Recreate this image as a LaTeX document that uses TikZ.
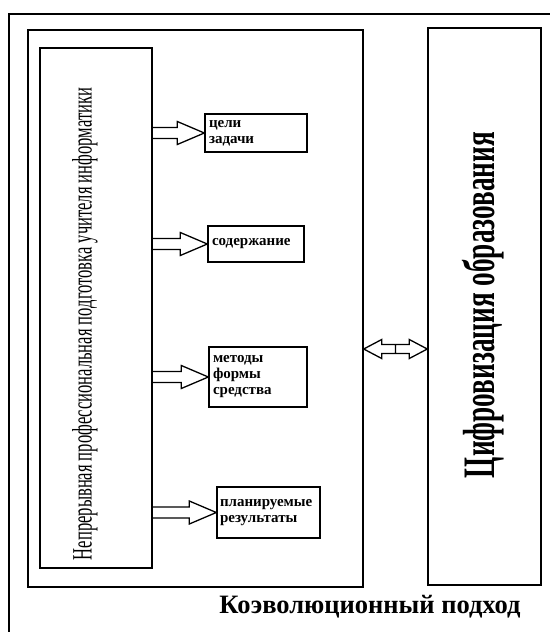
\documentclass[tikz,border=0pt]{standalone}
\usepackage{fontspec}
\setmainfont{Liberation Serif}
\usetikzlibrary{positioning,calc}

% block arrow, from #1 to the tip #2
\newcommand\blockarr[2]{%
  \draw[arrline] let \p1=(#1), \p2=(#2) in
    (\x1,\y1+5.5pt) -- (\x2-27pt,\y1+5.5pt) -- (\x2-27pt,\y1+11.5pt) -- (\x2,\y1)
    -- (\x2-27pt,\y1-11.5pt) -- (\x2-27pt,\y1-5.5pt) -- (\x1,\y1-5.5pt);}
% two block arrows, tip to tip
\newcommand\dblarr[2]{%
  \draw[arrline] let \p1=(#1), \p2=(#2), \p3=($(#1)!0.5!(#2)$) in
    (\x1,\y1) -- (\x1+18pt,\y1+9.5pt) -- (\x1+18pt,\y1+4.5pt) -- (\x2-18pt,\y1+4.5pt)
    -- (\x2-18pt,\y1+9.5pt) -- (\x2,\y1) -- (\x2-18pt,\y1-9.5pt) -- (\x2-18pt,\y1-4.5pt)
    -- (\x1+18pt,\y1-4.5pt) -- (\x1+18pt,\y1-9.5pt) -- cycle
    (\x3,\y1+4.5pt) -- (\x3,\y1-4.5pt);}

\begin{document}
\begin{tikzpicture}[x=1pt,y=-1pt,
    frame/.style={draw, line width=1.4pt, inner sep=0pt},
    itembox/.style={draw, line width=1.4pt, align=left, inner xsep=4pt, inner ysep=0pt},
    arrline/.style={line width=1.3pt, line join=miter}]
    \useasboundingbox (0,0) rectangle (550,632);
    % outer frame, cut off by the page
    \draw[line width=1.4pt] (9,632) -- (9,14) -- (550,14);

    \node[frame, minimum width=335pt, minimum height=557pt] (cycle) at (195.5,308.5) {};
    \node[frame, minimum width=112pt, minimum height=520pt] (prep) at (96,308) {};
    \node[frame, minimum width=113pt, minimum height=557pt] (digit) at (484.5,306.5) {};

    \node[rotate=90, font=\fontsize{28}{28}\selectfont] (preptext) at (85,324)
        {\resizebox{472pt}{\height}{Непрерывная профессиональная подготовка учителя информатики}};
    \node[rotate=90, font=\bfseries\fontsize{45}{45}\selectfont] (digittext) at (483,305)
        {\resizebox{346pt}{\height}{Цифровизация образования}};

    \node[itembox, text width=94pt, minimum height=38pt,
        font=\bfseries\fontsize{15}{16}\selectfont] (aims) at (256,133) {цели\\задачи};
    \node[itembox, text width=88pt, minimum height=36pt,
        font=\bfseries\fontsize{15}{16}\selectfont] (content) at (256,244) {содержание};
    \node[itembox, text width=90pt, minimum height=60pt,
        font=\bfseries\fontsize{15}{16}\selectfont] (methods) at (258,377) {методы\\формы\\средства};
    \node[itembox, text width=97pt, minimum height=51pt, inner xsep=3pt,
        font=\bfseries\fontsize{15}{15.5}\selectfont] (results) at (268.5,512.5) {планируемые\\результаты};

    \blockarr{prep.east |- aims.west}{aims.west}
    \blockarr{prep.east |- content.west}{content.west}
    \blockarr{prep.east |- methods.west}{methods.west}
    \blockarr{prep.east |- results.west}{results.west}

    \coordinate (link) at (396,349);
    \dblarr{cycle.east |- link}{digit.west |- link}

    \node[font=\bfseries\fontsize{26.5}{26.5}\selectfont] (approach) at (370,607) {Коэволюционный подход};
\end{tikzpicture}
\end{document}
